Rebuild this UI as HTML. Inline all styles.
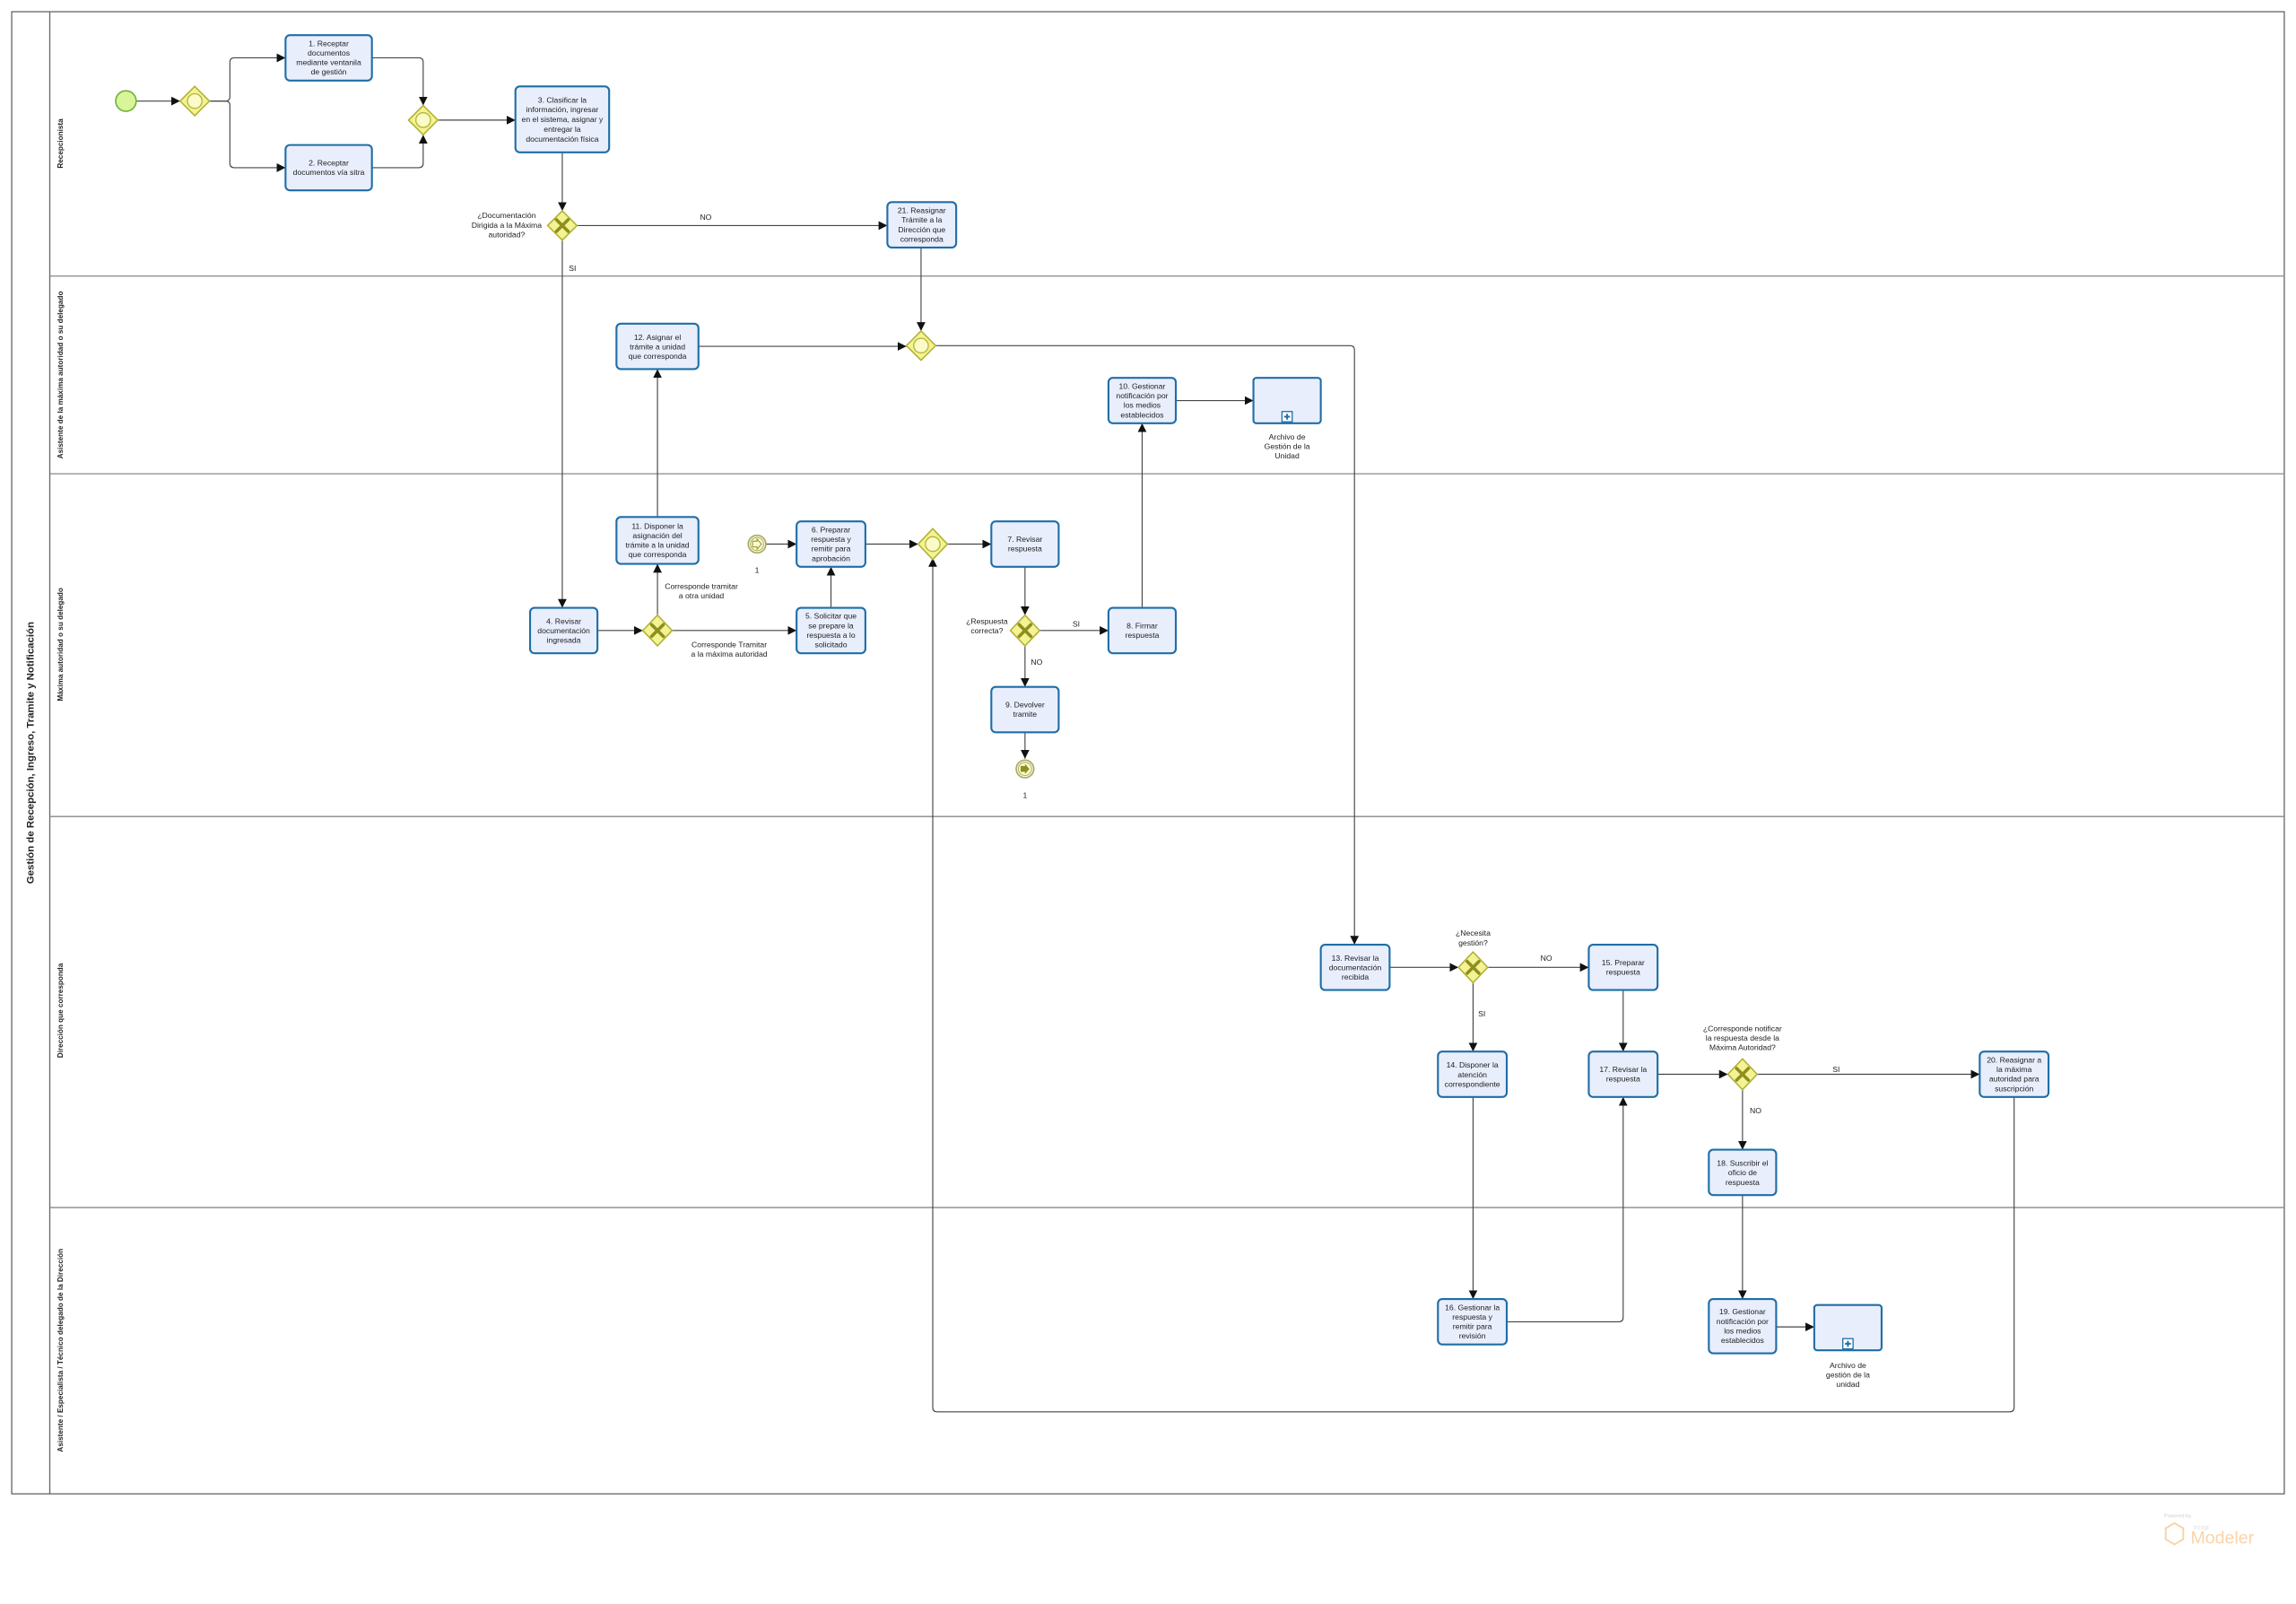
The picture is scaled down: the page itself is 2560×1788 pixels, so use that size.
<!DOCTYPE html>
<html><head><meta charset="utf-8"><style>
html,body{margin:0;padding:0;background:#fff;}
svg{display:block;}
text{font-family:"Liberation Sans",sans-serif;fill:#222;}
.t{font-size:5.3px;text-anchor:middle;fill:#333;}
.l{font-size:5.3px;text-anchor:middle;fill:#222;}
.ln{font-size:5px;font-weight:bold;text-anchor:middle;}
.task{fill:#e9eefc;stroke:#1f6ea6;stroke-width:1.3;}
.gw{fill:#f3f394;stroke:#b3b33a;stroke-width:1;}
.c{fill:none;stroke:#444;stroke-width:0.7;}
</style></head><body>
<svg width="2560" height="1788" viewBox="0 0 1568 1095.2" preserveAspectRatio="none" xmlns="http://www.w3.org/2000/svg">
<defs>
<marker id="a" viewBox="0 0 10 10" refX="10" refY="5" markerWidth="6" markerHeight="6" orient="auto" markerUnits="userSpaceOnUse"><path d="M0,0 L10,5 L0,10 z" fill="#111"/></marker>
</defs>
<!-- pool -->
<rect x="8" y="8" width="1552" height="1012" fill="#fff" stroke="#666" stroke-width="0.8"/>
<line x1="34" y1="8" x2="34" y2="1020" stroke="#666" stroke-width="0.8"/>
<g stroke="#888" stroke-width="0.8">
<line x1="34" y1="188.5" x2="1560" y2="188.5"/>
<line x1="34" y1="323.5" x2="1560" y2="323.5"/>
<line x1="34" y1="557.5" x2="1560" y2="557.5"/>
<line x1="34" y1="824.5" x2="1560" y2="824.5"/>
</g>
<text transform="translate(23,514) rotate(-90)" style="font-size:7px;font-weight:bold;text-anchor:middle">Gestión de Recepción, Ingreso, Tramite y Notificación</text>
<text class="ln" transform="translate(43,98) rotate(-90)">Recepcionista</text>
<text class="ln" transform="translate(43,256) rotate(-90)">Asistente de la máxima autoridad o su delegado</text>
<text class="ln" transform="translate(43,440) rotate(-90)">Máxima autoridad o su delegado</text>
<text class="ln" transform="translate(43,690) rotate(-90)">Dirección que corresponda</text>
<text class="ln" transform="translate(43,922) rotate(-90)">Asistente / Especialista / Técnico delegado de la Dirección</text>

<!-- connectors -->
<g class="c" marker-end="url(#a)">
<path d="M93,69 H123"/>
<path d="M143,69 H154 Q157,69 157,66 V42.5 Q157,39.5 160,39.5 H195"/>
<path d="M143,69 H154 Q157,69 157,72 V111.5 Q157,114.5 160,114.5 H195"/>
<path d="M254,39.5 H286 Q289,39.5 289,42.5 V72"/>
<path d="M254,114.5 H286 Q289,114.5 289,111.5 V92"/>
<path d="M299,82 H352"/>
<path d="M384,104 V144"/>
<path d="M394,154 H606"/>
<path d="M384,164 V415"/>
<path d="M629,169 V226"/>
<path d="M477,236.5 H619"/>
<path d="M639,236 H922 Q925,236 925,239 V645"/>
<path d="M803,273.5 H856"/>
<path d="M408,430.5 H439"/>
<path d="M449,420 V385"/>
<path d="M449,353 V252"/>
<path d="M459,430.5 H544"/>
<path d="M567.5,415 V387"/>
<path d="M523,371.5 H544"/>
<path d="M591,371.5 H627"/>
<path d="M647,371.5 H677"/>
<path d="M700,387 V420"/>
<path d="M710,430.5 H757"/>
<path d="M700,440 V469"/>
<path d="M700,500 V518"/>
<path d="M780,415 V289"/>
<path d="M949,660.5 H996"/>
<path d="M1016,660.5 H1085"/>
<path d="M1006,670 V718"/>
<path d="M1108.5,676 V718"/>
<path d="M1006,749 V887"/>
<path d="M1029,902.5 H1105.5 Q1108.5,902.5 1108.5,899.5 V749"/>
<path d="M1132,733.5 H1180"/>
<path d="M1200,733.5 H1352"/>
<path d="M1190,743 V785"/>
<path d="M1190,816 V887"/>
<path d="M1213,906 H1239"/>
<path d="M1375.5,749 V961 Q1375.5,964 1372.5,964 H640 Q637,964 637,961 V381"/>
</g>

<!-- start -->
<circle cx="86" cy="69" r="7" fill="#d8f59a" stroke="#6fb33a" stroke-width="1"/>
<!-- gateways -->
<g>
<polygon class="gw" points="133,59 143,69 133,79 123,69"/><circle cx="133" cy="69" r="5" fill="#fbfbc8" stroke="#b3b33a" stroke-width="0.8"/>
<polygon class="gw" points="289,72 299,82 289,92 279,82"/><circle cx="289" cy="82" r="5" fill="#fbfbc8" stroke="#b3b33a" stroke-width="0.8"/>
<polygon class="gw" points="629,226 639,236 629,246 619,236"/><circle cx="629" cy="236" r="5" fill="#fbfbc8" stroke="#b3b33a" stroke-width="0.8"/>
<polygon class="gw" points="637,361 647,371.5 637,382 627,371.5"/><circle cx="637" cy="371.5" r="5" fill="#fbfbc8" stroke="#b3b33a" stroke-width="0.8"/>
</g>
<g>
<polygon class="gw" points="384,144 394,154 384,164 374,154"/>
<polygon class="gw" points="449,420 459,430.5 449,441 439,430.5"/>
<polygon class="gw" points="700,420 710,430.5 700,441 690,430.5"/>
<polygon class="gw" points="1006,650 1016,660.5 1006,671 996,660.5"/>
<polygon class="gw" points="1190,723 1200,733.5 1190,744 1180,733.5"/>
</g>
<g stroke="#8f8f20" stroke-width="2.2" stroke-linecap="round">
<path d="M380,150 l8,8 M388,150 l-8,8"/>
<path d="M445,426.5 l8,8 M453,426.5 l-8,8"/>
<path d="M696,426.5 l8,8 M704,426.5 l-8,8"/>
<path d="M1002,656.5 l8,8 M1010,656.5 l-8,8"/>
<path d="M1186,729.5 l8,8 M1194,729.5 l-8,8"/>
</g>
<!-- link events -->
<circle cx="517" cy="371.5" r="6" fill="#fbfbd8" stroke="#a8a860" stroke-width="1"/><circle cx="517" cy="371.5" r="4.5" fill="none" stroke="#a8a860" stroke-width="0.6"/>
<path d="M514,369.5 h3 v-1.5 l3,3.5 l-3,3.5 v-1.5 h-3z" fill="none" stroke="#8f8f20" stroke-width="0.6"/>
<circle cx="700" cy="525" r="6" fill="#fbfbd8" stroke="#a8a860" stroke-width="1"/><circle cx="700" cy="525" r="4.5" fill="none" stroke="#a8a860" stroke-width="0.6"/>
<path d="M697,523 h3 v-1.5 l3,3.5 l-3,3.5 v-1.5 h-3z" fill="#8f8f20"/>

<!-- tasks -->
<g>
<rect class="task" x="195" y="24" width="59" height="31" rx="3"/>
<rect class="task" x="195" y="99" width="59" height="31" rx="3"/>
<rect class="task" x="352" y="59" width="64" height="45" rx="3"/>
<rect class="task" x="606" y="138" width="47" height="31" rx="3"/>
<rect class="task" x="421" y="221" width="56" height="31" rx="3"/>
<rect class="task" x="757" y="258" width="46" height="31" rx="3"/>
<rect class="task" x="856" y="258" width="46" height="31" rx="2"/>
<rect class="task" x="421" y="353" width="56" height="32" rx="3"/>
<rect class="task" x="362" y="415" width="46" height="31" rx="3"/>
<rect class="task" x="544" y="415" width="47" height="31" rx="3"/>
<rect class="task" x="544" y="356" width="47" height="31" rx="3"/>
<rect class="task" x="677" y="356" width="46" height="31" rx="3"/>
<rect class="task" x="757" y="415" width="46" height="31" rx="3"/>
<rect class="task" x="677" y="469" width="46" height="31" rx="3"/>
<rect class="task" x="902" y="645" width="47" height="31" rx="3"/>
<rect class="task" x="1085" y="645" width="47" height="31" rx="3"/>
<rect class="task" x="982" y="718" width="47" height="31" rx="3"/>
<rect class="task" x="1085" y="718" width="47" height="31" rx="3"/>
<rect class="task" x="1352" y="718" width="47" height="31" rx="3"/>
<rect class="task" x="1167" y="785" width="46" height="31" rx="3"/>
<rect class="task" x="982" y="887" width="47" height="31" rx="3"/>
<rect class="task" x="1167" y="887" width="46" height="37" rx="3"/>
<rect class="task" x="1239" y="891" width="46" height="31" rx="2"/>
</g>
<!-- subprocess markers -->
<g fill="#fff" stroke="#1f6ea6" stroke-width="0.8">
<rect x="875.5" y="281" width="7" height="7"/><rect x="1258.5" y="914" width="7" height="7"/>
</g>
<g stroke="#1f6ea6" stroke-width="1.2">
<path d="M879,282.5 v4 M877,284.5 h4"/><path d="M1262,915.5 v4 M1260,917.5 h4"/>
</g>

<!-- task text -->
<g class="t">
<text x="224.5" y="31.5"><tspan x="224.5">1. Receptar</tspan><tspan x="224.5" dy="6.5">documentos</tspan><tspan x="224.5" dy="6.5">mediante ventanila</tspan><tspan x="224.5" dy="6.5">de gestión</tspan></text>
<text x="224.5" y="113"><tspan x="224.5">2. Receptar</tspan><tspan x="224.5" dy="6.5">documentos vía sitra</tspan></text>
<text x="384" y="70"><tspan x="384">3. Clasificar la</tspan><tspan x="384" dy="6.7">información, ingresar</tspan><tspan x="384" dy="6.7">en el sistema, asignar y</tspan><tspan x="384" dy="6.7">entregar la</tspan><tspan x="384" dy="6.7">documentación física</tspan></text>
<text x="629.5" y="145.5"><tspan x="629.5">21. Reasignar</tspan><tspan x="629.5" dy="6.5">Trámite a la</tspan><tspan x="629.5" dy="6.5">Dirección que</tspan><tspan x="629.5" dy="6.5">corresponda</tspan></text>
<text x="449" y="232"><tspan x="449">12. Asignar el</tspan><tspan x="449" dy="6.5">trámite a unidad</tspan><tspan x="449" dy="6.5">que corresponda</tspan></text>
<text x="780" y="265.5"><tspan x="780">10. Gestionar</tspan><tspan x="780" dy="6.5">notificación por</tspan><tspan x="780" dy="6.5">los medios</tspan><tspan x="780" dy="6.5">establecidos</tspan></text>
<text x="449" y="361"><tspan x="449">11. Disponer la</tspan><tspan x="449" dy="6.5">asignación del</tspan><tspan x="449" dy="6.5">trámite a la unidad</tspan><tspan x="449" dy="6.5">que corresponda</tspan></text>
<text x="385" y="426"><tspan x="385">4. Revisar</tspan><tspan x="385" dy="6.5">documentación</tspan><tspan x="385" dy="6.5">ingresada</tspan></text>
<text x="567.5" y="422.5"><tspan x="567.5">5. Solicitar que</tspan><tspan x="567.5" dy="6.5">se prepare la</tspan><tspan x="567.5" dy="6.5">respuesta a lo</tspan><tspan x="567.5" dy="6.5">solicitado</tspan></text>
<text x="567.5" y="363.5"><tspan x="567.5">6. Preparar</tspan><tspan x="567.5" dy="6.5">respuesta y</tspan><tspan x="567.5" dy="6.5">remitir para</tspan><tspan x="567.5" dy="6.5">aprobación</tspan></text>
<text x="700" y="370"><tspan x="700">7. Revisar</tspan><tspan x="700" dy="6.5">respuesta</tspan></text>
<text x="780" y="429"><tspan x="780">8. Firmar</tspan><tspan x="780" dy="6.5">respuesta</tspan></text>
<text x="700" y="483"><tspan x="700">9. Devolver</tspan><tspan x="700" dy="6.5">tramite</tspan></text>
<text x="925.5" y="656"><tspan x="925.5">13. Revisar la</tspan><tspan x="925.5" dy="6.5">documentación</tspan><tspan x="925.5" dy="6.5">recibida</tspan></text>
<text x="1108.5" y="659"><tspan x="1108.5">15. Preparar</tspan><tspan x="1108.5" dy="6.5">respuesta</tspan></text>
<text x="1005.5" y="729"><tspan x="1005.5">14. Disponer la</tspan><tspan x="1005.5" dy="6.5">atención</tspan><tspan x="1005.5" dy="6.5">correspondiente</tspan></text>
<text x="1108.5" y="732"><tspan x="1108.5">17. Revisar la</tspan><tspan x="1108.5" dy="6.5">respuesta</tspan></text>
<text x="1375.5" y="725.5"><tspan x="1375.5">20.  Reasignar a</tspan><tspan x="1375.5" dy="6.5">la máxima</tspan><tspan x="1375.5" dy="6.5">autoridad para</tspan><tspan x="1375.5" dy="6.5">suscripción</tspan></text>
<text x="1190" y="796"><tspan x="1190">18. Suscribir el</tspan><tspan x="1190" dy="6.5">oficio de</tspan><tspan x="1190" dy="6.5">respuesta</tspan></text>
<text x="1005.5" y="894.5"><tspan x="1005.5">16. Gestionar la</tspan><tspan x="1005.5" dy="6.5">respuesta y</tspan><tspan x="1005.5" dy="6.5">remitir para</tspan><tspan x="1005.5" dy="6.5">revisión</tspan></text>
<text x="1190" y="897.5"><tspan x="1190">19. Gestionar</tspan><tspan x="1190" dy="6.5">notificación por</tspan><tspan x="1190" dy="6.5">los medios</tspan><tspan x="1190" dy="6.5">establecidos</tspan></text>
</g>

<!-- labels -->
<g class="l">
<text x="346" y="149"><tspan x="346">¿Documentación</tspan><tspan x="346" dy="6.5">Dirigida a la Máxima</tspan><tspan x="346" dy="6.5">autoridad?</tspan></text>
<text x="482" y="150">NO</text>
<text x="391" y="185">SI</text>
<text x="879" y="300"><tspan x="879">Archivo de</tspan><tspan x="879" dy="6.5">Gestión de la</tspan><tspan x="879" dy="6.5">Unidad</tspan></text>
<text x="479" y="402"><tspan x="479">Corresponde tramitar</tspan><tspan x="479" dy="6.5">a otra unidad</tspan></text>
<text x="498" y="442"><tspan x="498">Corresponde Tramitar</tspan><tspan x="498" dy="6.5">a la máxima autoridad</tspan></text>
<text x="517" y="391">1</text>
<text x="674" y="426"><tspan x="674">¿Respuesta</tspan><tspan x="674" dy="6.5">correcta?</tspan></text>
<text x="735" y="428">SI</text>
<text x="708" y="454">NO</text>
<text x="700" y="545">1</text>
<text x="1006" y="639"><tspan x="1006">¿Necesita</tspan><tspan x="1006" dy="6.5">gestión?</tspan></text>
<text x="1056" y="656">NO</text>
<text x="1012" y="694">SI</text>
<text x="1190" y="704"><tspan x="1190">¿Corresponde notificar</tspan><tspan x="1190" dy="6.5">la respuesta desde la</tspan><tspan x="1190" dy="6.5">Máxima Autoridad?</tspan></text>
<text x="1254" y="732">SI</text>
<text x="1199" y="760">NO</text>
<text x="1262" y="934"><tspan x="1262">Archivo de</tspan><tspan x="1262" dy="6.5">gestión de la</tspan><tspan x="1262" dy="6.5">unidad</tspan></text>
</g>

<!-- logo -->
<text x="1478" y="1036" style="font-size:3.5px;fill:#ccc">Powered by</text>
<text x="1498" y="1044" style="font-size:4px;fill:#ddd">bizagi</text>
<text x="1496" y="1054" style="font-size:12px;fill:#fbd3a8">Modeler</text>
<polygon points="1485,1040 1491,1043.5 1491,1051 1485,1054.5 1479,1051 1479,1043.5" fill="none" stroke="#fbd3a8" stroke-width="1.2"/>
</svg>
</body></html>
